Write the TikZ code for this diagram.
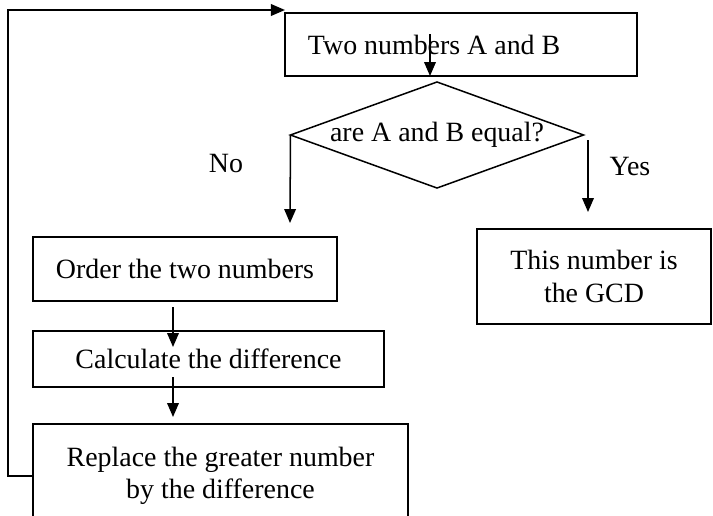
\documentclass[tikz,border=0pt]{standalone}
\usepackage{fontspec}
\setmainfont{Liberation Serif}
\usepackage{tikz}
\usetikzlibrary{positioning, shapes, arrows, calc, arrows.meta}

\begin{document}
\begin{tikzpicture}[x=0.43pt, y=-0.43pt, line width=0.65pt,
    font=\fontsize{12}{14}\selectfont,
    box/.style={draw, rectangle, inner sep=0pt, outer sep=0pt, align=center},
    cond/.style={draw, diamond, inner sep=0pt, outer sep=0pt},
    arr/.style={-{Triangle[length=6pt,width=5pt]}}]
  \useasboundingbox (0,0) rectangle (713,515);

  % input
  \node[box, text width=131.6pt, align=flush left, inner xsep=9.9pt, minimum height=27.1pt] (two) at (461,44.5) {Two numbers A and B};

  % test
  \node[cond, aspect=2.76, minimum width=126pt, minimum height=45.6pt] (equal) at (437,135) {\raisebox{-3pt}{are A and B equal?}};
  \coordinate (t1) at (430,34);
  \draw[arr] (t1) -- (t1 |- two.south);

  % yes branch
  \node[box, minimum width=100.6pt, minimum height=40.9pt] (gcd) at (594,276.5) {This number is\\the GCD};
  \coordinate (ys) at (588,140);
  \coordinate (ye) at (588,212);
  \draw[arr] (ys) -- (ye);
  \node (yes) at (630,166) {Yes};

  % no branch
  \coordinate (ne) at (290,223);
  \draw[arr] (equal.west) -- (ne);
  \node (no) at (226,163) {No};

  \node[box, minimum width=130.7pt, minimum height=27.5pt] (order) at (185,269) {Order the two numbers};
  \node[box, minimum width=150.9pt, minimum height=24.1pt] (calc) at (208.5,359) {Calculate the difference};
  \node[box, minimum width=161.3pt, minimum height=44.7pt] (repl) at (220.5,476) {Replace the greater number\\by the difference};

  \coordinate (a1) at (173,307);
  \coordinate (a2) at (173,347);
  \draw[arr] (a1) -- (a2);
  \coordinate (b1) at (173,377);
  \coordinate (b2) at (173,417);
  \draw[arr] (b1) -- (b2);

  % loop back
  \coordinate (lp) at (8,10);
  \draw[arr] (repl.west) -| (lp) -- (lp -| two.west);
\end{tikzpicture}
\end{document}
